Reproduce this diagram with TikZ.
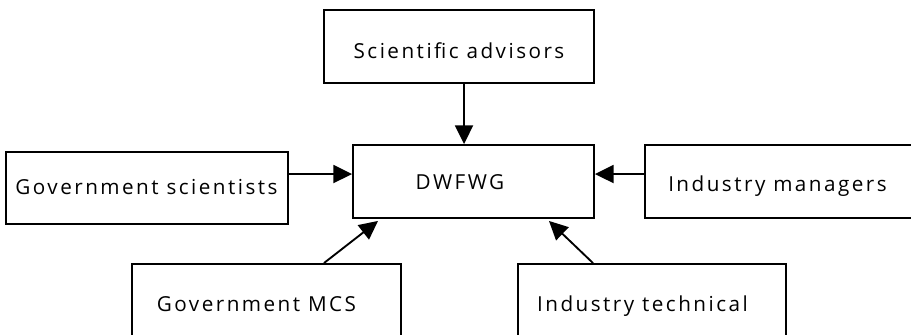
\documentclass[tikz,border=0pt]{standalone}
\usepackage{fontspec}
\setmainfont[LetterSpace=12]{Open Sans}
\usetikzlibrary{arrows.meta}
\begin{document}
\begin{tikzpicture}[x=0.75pt,y=-0.75pt,
  box/.style={draw, line width=1.4pt, inner sep=0pt, anchor=center},
  lbl/.style={anchor=base, inner sep=0pt, font=\fontsize{15.5}{18}\selectfont},
  arr/.style={line width=1.4pt, -{Triangle[length=14pt,width=13.5pt]}}]
\useasboundingbox (0,0) rectangle (911,335);
\clip (0,0) rectangle (911,335);
% boxes
\node[box, minimum width={270*0.75pt}, minimum height={73*0.75pt}] (sa) at (459,46.5) {};
\node[box, minimum width={241*0.75pt}, minimum height={73*0.75pt}] (dw) at (473.5,181.5) {};
\node[box, minimum width={282*0.75pt}, minimum height={72*0.75pt}] (gs) at (147,188) {};
\node[box, minimum width={270*0.75pt}, minimum height={73*0.75pt}] (im) at (780,181.5) {};
\node[box, minimum width={269*0.75pt}, minimum height={81*0.75pt}] (gm) at (266.5,304.5) {};
\node[box, minimum width={268*0.75pt}, minimum height={81*0.75pt}] (it) at (652,304.5) {};
% labels
\node[lbl] (tsa) at (459,59) {Scientific advisors};
\node[lbl] (tdw) at (460,189) {DWFWG};
\node[lbl] (tgs) at (146.5,195) {Government scientists};
\node[lbl] (tim) at (777.5,191) {Industry managers};
\node[lbl] (tgm) at (256.5,311) {Government MCS};
\node[lbl] (tit) at (642.5,311) {Industry technical};
% connectors
\draw[arr] ([xshift=3.75pt]sa.south) -- ([xshift=-7.1pt]dw.north);
\draw[arr] ([yshift=10.5pt]gs.east) -- ([yshift=5.6pt]dw.west);
\draw[arr] ([yshift=5.6pt]im.west) -- ([yshift=5.6pt]dw.east);
\draw[arr] ([xshift=43.1pt]gm.north) -- ([xshift=-71.6pt,yshift=-1.5pt]dw.south);
\draw[arr] ([xshift=-44.25pt]it.north) -- ([xshift=56.6pt,yshift=-1.5pt]dw.south);
\end{tikzpicture}
\end{document}
